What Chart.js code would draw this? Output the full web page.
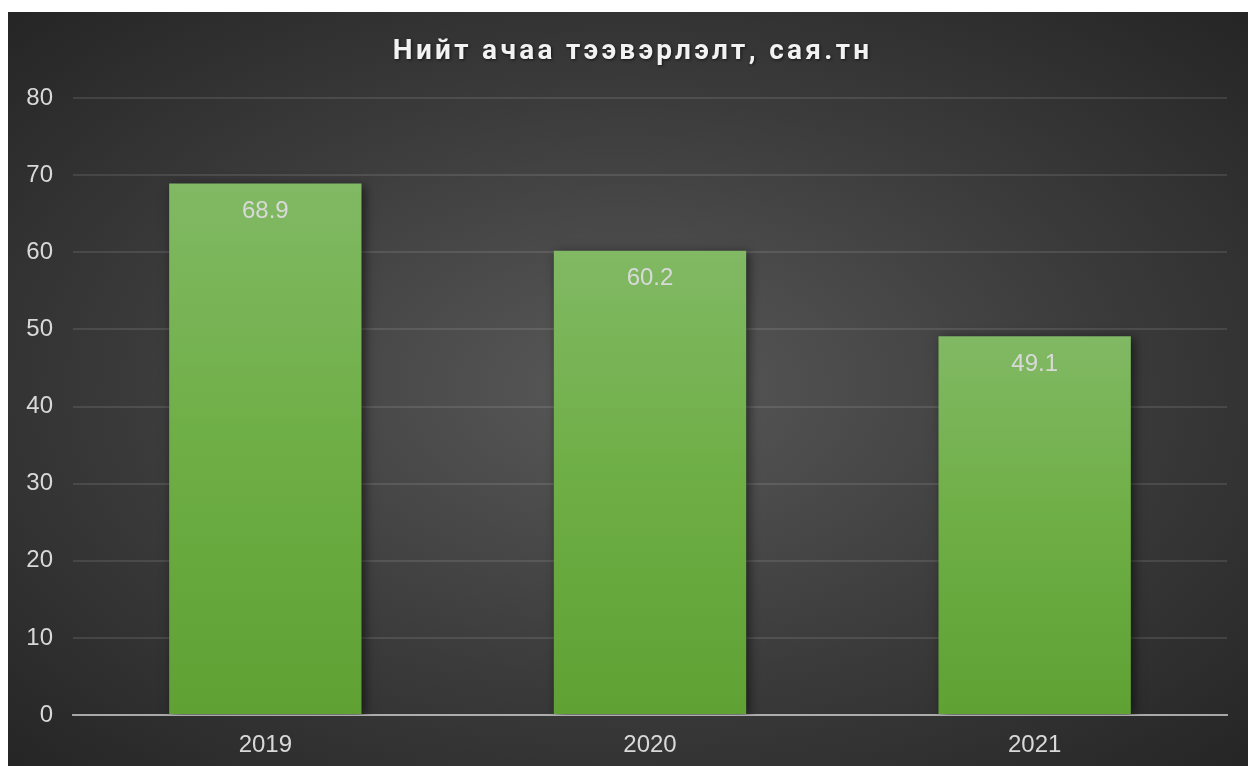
<!DOCTYPE html>
<html>
<head>
<meta charset="utf-8">
<script src="https://cdn.jsdelivr.net/npm/chart.js@4.4.0/dist/chart.umd.min.js"></script>
<style>
  html, body { margin: 0; padding: 0; background: #ffffff; width: 1248px; height: 766px; overflow: hidden; }
  #wrap { position: absolute; left: 8px; top: 12px; width: 1240px; height: 754px;
    background: radial-gradient(ellipse farthest-corner at 50% 50%, #595959 0%, #3b3b3b 55%, #252525 100%); }
  canvas { display: block; }
</style>
</head>
<body>
<div id="wrap"><canvas id="c" width="1240" height="754"></canvas></div>
<script>
const chartTitle = 'Нийт ачаа тээвэрлэлт, сая.тн';
const categories = ['2019', '2020', '2021'];
const values = [68.9, 60.2, 49.1];
const yTicks = [0, 10, 20, 30, 40, 50, 60, 70, 80];

const textColor = '#d9d9d9';
const labelFont = '"Liberation Sans", Arial, sans-serif';

const titlePlugin = {
  id: 'customTitle',
  afterDraw(chart) {
    const ctx = chart.ctx;
    const spacing = 3.3;
    ctx.save();
    ctx.font = 'bold 28px Roboto, "Liberation Sans", Arial, sans-serif';
    try { ctx.letterSpacing = spacing + 'px'; } catch (e) {}
    ctx.textAlign = 'left';
    ctx.textBaseline = 'alphabetic';
    const w = ctx.measureText(chartTitle).width - spacing;
    ctx.shadowColor = 'rgba(0,0,0,0.6)';
    ctx.shadowBlur = 3;
    ctx.shadowOffsetX = 1;
    ctx.shadowOffsetY = 1;
    ctx.fillStyle = '#f2f2f2';
    ctx.fillText(chartTitle, 623 - w / 2, 47);
    ctx.restore();
  }
};

const shadowPlugin = {
  id: 'barShadow',
  beforeDatasetDraw(chart) {
    const ctx = chart.ctx;
    ctx.save();
    ctx.shadowColor = 'rgba(0,0,0,0.55)';
    ctx.shadowBlur = 10;
    ctx.shadowOffsetX = 3;
    ctx.shadowOffsetY = 2;
  },
  afterDatasetDraw(chart) {
    chart.ctx.restore();
  }
};

const labelPlugin = {
  id: 'dataLabels',
  afterDatasetsDraw(chart) {
    const ctx = chart.ctx;
    const meta = chart.getDatasetMeta(0);
    ctx.save();
    ctx.font = '24px ' + labelFont;
    ctx.fillStyle = textColor;
    ctx.textAlign = 'center';
    ctx.textBaseline = 'middle';
    meta.data.forEach((bar, i) => {
      ctx.fillText(values[i].toFixed(1), bar.x, bar.y + 28);
    });
    ctx.restore();
  }
};

new Chart(document.getElementById('c'), {
  type: 'bar',
  data: {
    labels: categories,
    datasets: [{
      data: values,
      backgroundColor(context) {
        const chart = context.chart;
        const area = chart.chartArea;
        if (!area) return '#70ad47';
        const v = context.raw;
        const top = chart.scales.y.getPixelForValue(v);
        const bottom = chart.scales.y.getPixelForValue(0);
        const g = chart.ctx.createLinearGradient(0, top, 0, bottom);
        g.addColorStop(0, '#81b964');
        g.addColorStop(0.5, '#6eae45');
        g.addColorStop(1, '#5fa133');
        return g;
      },
      borderWidth: 0,
      barPercentage: 1,
      categoryPercentage: 0.5
    }]
  },
  options: {
    responsive: false,
    animation: false,
    devicePixelRatio: 1,
    layout: { padding: { top: 86, right: 21, left: 0, bottom: 0 } },
    plugins: { legend: { display: false }, tooltip: { enabled: false }, title: { display: false } },
    scales: {
      x: {
        z: 1,
        grid: { display: false, drawTicks: false },
        border: { display: true, color: 'rgba(255,255,255,0.55)', width: 2 },
        ticks: { color: textColor, font: { size: 24, family: labelFont }, padding: 16 },
        afterFit(scale) { scale.height = 51; }
      },
      y: {
        min: 0, max: 80,
        afterBuildTicks(scale) { scale.ticks = yTicks.map(v => ({ value: v })); },
        grid: { color: 'rgba(255,255,255,0.10)', lineWidth: 2, drawTicks: false },
        border: { display: false },
        ticks: { color: textColor, font: { size: 24, family: labelFont }, padding: 20 },
        afterFit(scale) { scale.width = 65; }
      }
    }
  },
  plugins: [shadowPlugin, labelPlugin, titlePlugin]
});
</script>
</body>
</html>
